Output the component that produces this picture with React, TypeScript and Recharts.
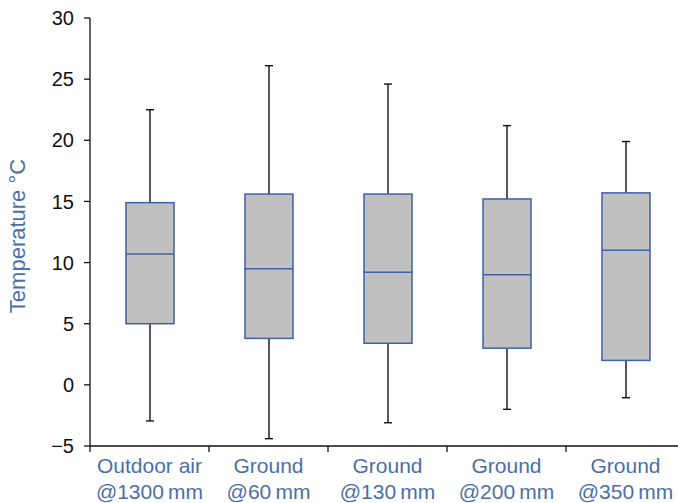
import React from 'react';
import { ComposedChart, Bar, XAxis, YAxis } from 'recharts';

// categories (two-line labels)
const SITES = ['Outdoor air', 'Ground', 'Ground', 'Ground', 'Ground'];
const DEPTHS = ['@1300\u2009mm', '@60\u2009mm', '@130\u2009mm', '@200\u2009mm', '@350\u2009mm'];

// box plot statistics, °C
const MIN = [-2.95, -4.4, -3.1, -2.0, -1.05];
const Q1 = [5.0, 3.8, 3.4, 3.0, 2.0];
const MEDIAN = [10.7, 9.5, 9.2, 9.0, 11.0];
const Q3 = [14.9, 15.6, 15.6, 15.2, 15.7];
const MAX = [22.5, 26.1, 24.6, 21.2, 19.9];

const Y_TICKS = [-5, 0, 5, 10, 15, 20, 25, 30];

const BLUE_TEXT = '#4a6fa8';
const BOX_STROKE = '#3d62a5';
const FONT = '"Liberation Sans", Arial, Helvetica, sans-serif';

const CHART_W = 700;
const CHART_H = 503;
const Y_AXIS_W = 90;
const MARGIN = { top: 18, right: 15, left: 0, bottom: 0 };
const PLOT_W = CHART_W - Y_AXIS_W - MARGIN.left - MARGIN.right;

const data = SITES.map((site, i) => ({
  id: `${site}|${DEPTHS[i]}`,
  range: [MIN[i], MAX[i]],
  min: MIN[i],
  q1: Q1[i],
  median: MEDIAN[i],
  q3: Q3[i],
  max: MAX[i]
}));

const BoxShape = (props: any) => {
  const { x, y, width, height, payload } = props;
  const { min, q1, median, q3, max } = payload;
  const top = Math.min(y, y + height);
  const bottom = Math.max(y, y + height);
  const span = max - min || 1;
  const py = (v: number) => top + ((max - v) / span) * (bottom - top);
  const cx = x + width / 2;
  const cap = 4;

  return (
    <g>
      <line x1={cx} x2={cx} y1={py(max)} y2={py(q3)} stroke="#111" strokeWidth={1.4} />
      <line x1={cx} x2={cx} y1={py(q1)} y2={py(min)} stroke="#111" strokeWidth={1.4} />
      <line x1={cx - cap} x2={cx + cap} y1={py(max)} y2={py(max)} stroke="#111" strokeWidth={1.4} />
      <line x1={cx - cap} x2={cx + cap} y1={py(min)} y2={py(min)} stroke="#111" strokeWidth={1.4} />
      <rect
        x={x}
        y={py(q3)}
        width={width}
        height={py(q1) - py(q3)}
        fill="#c0c0c0"
        stroke={BOX_STROKE}
        strokeWidth={1.5}
      />
      <line x1={x} x2={x + width} y1={py(median)} y2={py(median)} stroke={BOX_STROKE} strokeWidth={1.5} />
    </g>
  );
};

// two-line category label plus a tick mark on the left band edge
const XTick = (props: any) => {
  const { x, y, payload } = props;
  const band = (props.width || PLOT_W) / SITES.length;
  const [line1, line2] = String(payload.value).split('|');
  return (
    <g>
      <line x1={x - band / 2} x2={x - band / 2} y1={y} y2={y + 6} stroke="#111" strokeWidth={1.3} />
      <text x={x} y={y + 27} textAnchor="middle" fill={BLUE_TEXT} fontSize={21} fontFamily={FONT}>
        {line1}
      </text>
      <text x={x} y={y + 53} textAnchor="middle" fill={BLUE_TEXT} fontSize={21} fontFamily={FONT}>
        {line2}
      </text>
    </g>
  );
};

const YTitle = (props: any) => {
  const vb = props.viewBox || { y: MARGIN.top, height: 428 };
  const cy = vb.y + vb.height / 2 + 4;
  return (
    <text
      x={25}
      y={cy}
      transform={`rotate(-90, 25, ${cy})`}
      textAnchor="middle"
      fill={BLUE_TEXT}
      fontSize={22}
      fontFamily={FONT}
    >
      Temperature °C
    </text>
  );
};

const fmtY = (v: number) => (v < 0 ? `\u2212${Math.abs(v)}` : `${v}`);

export default function App() {
  return (
    <div style={{ width: 678, height: 503, overflow: 'hidden', background: '#fff' }}>
      <style>{'body{margin:0}'}</style>
      <ComposedChart width={CHART_W} height={CHART_H} data={data} margin={MARGIN} style={{ fontFamily: FONT }}>
        <XAxis
          dataKey="id"
          type="category"
          height={57}
          tickLine={false}
          tickSize={0}
          tickMargin={0}
          interval={0}
          axisLine={{ stroke: '#111', strokeWidth: 1.3 }}
          tick={<XTick />}
        />
        <YAxis
          type="number"
          width={Y_AXIS_W}
          domain={[-5, 30]}
          ticks={Y_TICKS}
          interval={0}
          tickSize={6}
          tickMargin={10}
          tickFormatter={fmtY}
          axisLine={{ stroke: '#111', strokeWidth: 1.3 }}
          tickLine={{ stroke: '#111', strokeWidth: 1.3 }}
          tick={{ fill: '#111', fontSize: 20, fontFamily: FONT }}
          label={{ content: <YTitle /> }}
        />
        <Bar dataKey="range" barSize={48} shape={<BoxShape />} isAnimationActive={false} />
      </ComposedChart>
    </div>
  );
}
